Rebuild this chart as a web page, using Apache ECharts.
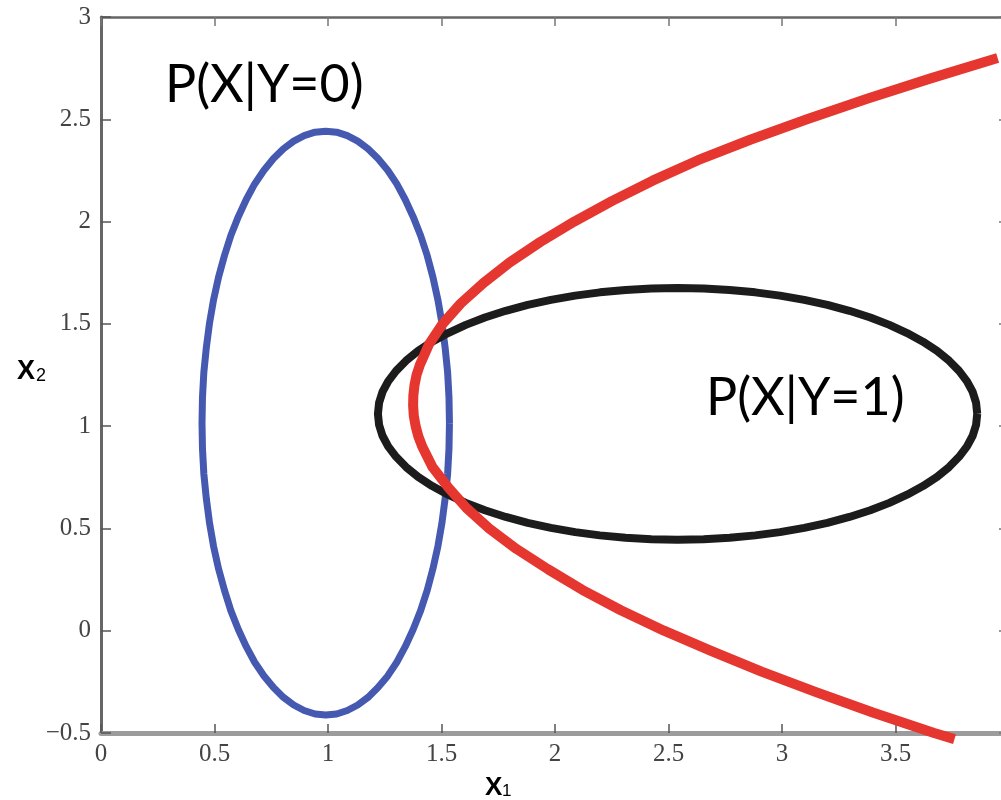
<!DOCTYPE html>
<html>
<head>
<meta charset="utf-8">
<script src="https://cdn.jsdelivr.net/npm/echarts@6/dist/echarts.min.js"></script>
<style>
html,body{margin:0;padding:0;background:#fff;}
#chart{width:1001px;height:800px;}
</style>
</head>
<body>
<div id="chart"></div>
<script>
// Axis tick settings
var xTicks = [0, 0.5, 1, 1.5, 2, 2.5, 3, 3.5, 4];
var yTicks = [-0.5, 0, 0.5, 1, 1.5, 2, 2.5, 3];

// Blue contour: P(X|Y=0)
var blueX = [1.535,1.533,1.527,1.516,1.502,1.484,1.462,1.437,1.408,1.375,1.340,1.303,1.263,1.220,1.176,1.131,1.085,1.038,0.990,
             0.943,0.895,0.849,0.804,0.760,0.718,0.677,0.640,0.605,0.572,0.544,0.518,0.496,0.478,0.464,0.453,0.447,0.445,
             0.447,0.453,0.464,0.478,0.496,0.518,0.544,0.572,0.605,0.640,0.677,0.718,0.760,0.804,0.849,0.895,0.943,0.990,
             1.038,1.085,1.131,1.176,1.220,1.263,1.303,1.340,1.375,1.408,1.437,1.462,1.484,1.502,1.516,1.527,1.533,1.535];
var blueY = [1.015,1.139,1.263,1.384,1.503,1.618,1.729,1.834,1.932,2.024,2.108,2.184,2.251,2.308,2.356,2.393,2.420,2.437,2.442,
             2.437,2.420,2.393,2.356,2.308,2.251,2.184,2.108,2.024,1.932,1.834,1.729,1.618,1.503,1.384,1.263,1.139,1.015,
             0.891,0.767,0.646,0.527,0.412,0.302,0.197,0.098,0.006,-0.078,-0.154,-0.221,-0.278,-0.326,-0.363,-0.390,-0.407,-0.412,
             -0.407,-0.390,-0.363,-0.326,-0.278,-0.221,-0.154,-0.078,0.006,0.098,0.197,0.302,0.412,0.527,0.646,0.767,0.891,1.015];

// Black contour: P(X|Y=1)
var blackX = [3.860,3.855,3.840,3.815,3.780,3.736,3.683,3.621,3.551,3.473,3.389,3.297,3.200,3.098,2.991,2.882,2.769,2.655,2.540,
              2.425,2.311,2.198,2.089,1.982,1.880,1.783,1.691,1.607,1.529,1.459,1.397,1.344,1.300,1.265,1.240,1.225,1.220,
              1.225,1.240,1.265,1.300,1.344,1.397,1.459,1.529,1.607,1.691,1.783,1.880,1.982,2.089,2.198,2.311,2.425,2.540,
              2.655,2.769,2.882,2.991,3.098,3.200,3.297,3.389,3.473,3.551,3.621,3.683,3.736,3.780,3.815,3.840,3.855,3.860];
var blackY = [1.060,1.114,1.167,1.219,1.270,1.320,1.368,1.413,1.455,1.495,1.531,1.564,1.593,1.617,1.638,1.654,1.666,1.673,1.675,
              1.673,1.666,1.654,1.638,1.617,1.593,1.564,1.531,1.495,1.455,1.413,1.368,1.320,1.270,1.219,1.167,1.114,1.060,
              1.006,0.953,0.901,0.850,0.800,0.752,0.707,0.665,0.625,0.589,0.556,0.527,0.503,0.482,0.466,0.454,0.447,0.445,
              0.447,0.454,0.466,0.482,0.503,0.527,0.556,0.589,0.625,0.665,0.707,0.752,0.800,0.850,0.901,0.953,1.006,1.060];

// Red decision boundary
var redX = [3.95,3.655,3.375,3.11,2.86,2.63,2.43,2.25,2.085,1.935,1.80,1.685,1.585,1.505,1.445,1.405,1.390,1.381,1.376,1.375,
            1.378,1.386,1.398,1.415,1.46,1.53,1.61,1.71,1.83,1.97,2.12,2.29,2.48,2.69,2.91,3.15,3.40,3.67,3.76];
var redY = [2.80,2.70,2.60,2.50,2.40,2.30,2.20,2.10,2.00,1.90,1.80,1.70,1.60,1.50,1.40,1.30,1.25,1.20,1.15,1.10,
            1.05,1.00,0.95,0.90,0.80,0.70,0.60,0.50,0.40,0.30,0.20,0.10,0.00,-0.10,-0.20,-0.30,-0.40,-0.50,-0.53];

var labelY0 = 'P(X|Y=0)';
var labelY1 = 'P(X|Y=1)';

function zip(a, b) { return a.map(function (v, i) { return [v, b[i]]; }); }

var chart = echarts.init(document.getElementById('chart'), null, {renderer: 'canvas'});

var tickFont = {fontFamily: 'Liberation Serif', fontSize: 25, color: '#444'};
function fmt(v) { return String(v).replace('-', '\u2212'); }

var option = {
  backgroundColor: '#ffffff',
  animation: false,
  grid: {left: 101, top: 17, bottom: 67, right: -8, outerBoundsMode: 'none', containLabel: false},
  xAxis: [
    {
      type: 'value', min: xTicks[0], max: xTicks[xTicks.length - 1], interval: 0.5, position: 'bottom',
      axisLine: {show: true, onZero: false, lineStyle: {color: '#9c9c9c', width: 5}},
      axisTick: {show: true, inside: true, length: 9, lineStyle: {color: '#555', width: 1.5}},
      axisLabel: Object.assign({margin: 9, formatter: fmt}, tickFont),
      splitLine: {show: false}
    },
    {
      type: 'value', min: xTicks[0], max: xTicks[xTicks.length - 1], interval: 0.5, position: 'top',
      axisLine: {show: true, onZero: false, lineStyle: {color: '#666', width: 2.5}},
      axisTick: {show: true, inside: true, length: 9, lineStyle: {color: '#777', width: 1.5}},
      axisLabel: {show: false},
      splitLine: {show: false}
    }
  ],
  yAxis: [
    {
      type: 'value', min: yTicks[0], max: yTicks[yTicks.length - 1], interval: 0.5, position: 'left',
      axisLine: {show: true, onZero: false, lineStyle: {color: '#666', width: 3}},
      axisTick: {show: true, inside: true, length: 10, lineStyle: {color: '#555', width: 1.5}},
      axisLabel: Object.assign({margin: 10, formatter: fmt}, tickFont),
      splitLine: {show: false}
    },
    {
      type: 'value', min: yTicks[0], max: yTicks[yTicks.length - 1], interval: 0.5, position: 'right',
      axisLine: {show: true, onZero: false, lineStyle: {color: '#666', width: 2.5}},
      axisTick: {show: true, inside: true, length: 10, lineStyle: {color: '#777', width: 1.5}},
      axisLabel: {show: false},
      splitLine: {show: false}
    }
  ],
  series: [
    {
      name: labelY0, type: 'line', data: zip(blueX, blueY), smooth: false, showSymbol: false,
      lineStyle: {color: '#4659b0', width: 7, join: 'round'}, z: 3
    },
    {
      name: labelY1, type: 'line', data: zip(blackX, blackY), smooth: false, showSymbol: false,
      lineStyle: {color: '#1c1c1c', width: 8, join: 'round'}, z: 4
    },
    {
      name: 'boundary', type: 'line', data: zip(redX, redY), smooth: false, showSymbol: false, clip: false,
      lineStyle: {color: '#e5362f', width: 10, join: 'round'}, z: 5
    }
  ],
  graphic: [
    {type: 'text', left: 165, top: 59, style: {text: labelY0, fontFamily: 'Lato', fontSize: 52, fill: '#000'}},
    {type: 'text', left: 706, top: 372, style: {text: labelY1, fontFamily: 'Lato', fontSize: 52, fill: '#000'}},
    {type: 'text', x: 485, y: 788, style: {text: 'X', fontFamily: 'Liberation Sans', fontWeight: 'bold', fontSize: 26, fill: '#000', verticalAlign: 'middle'}},
    {type: 'text', x: 502, y: 791, style: {text: '1', fontFamily: 'Liberation Sans', fontSize: 17, fill: '#000', verticalAlign: 'middle'}},
    {type: 'text', x: 17, y: 372, style: {text: 'X', fontFamily: 'Liberation Sans', fontWeight: 'bold', fontSize: 27, fill: '#000', verticalAlign: 'middle'}},
    {type: 'text', x: 36, y: 376, style: {text: '2', fontFamily: 'Liberation Sans', fontSize: 18, fill: '#000', verticalAlign: 'middle'}}
  ]
};
chart.setOption(option);
</script>
</body>
</html>
